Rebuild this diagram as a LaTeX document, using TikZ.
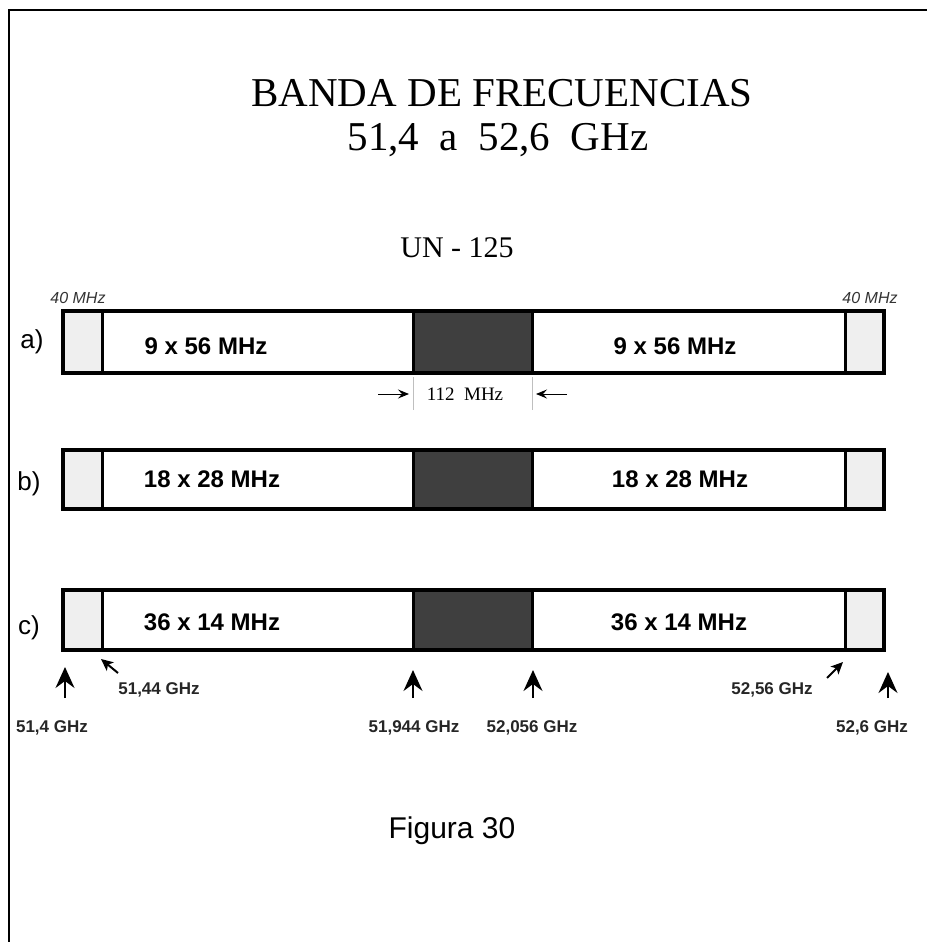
\documentclass[tikz,border=0pt]{standalone}
\usepackage{fontspec}
\setmainfont{Liberation Serif}
\setsansfont{Liberation Sans}
\usetikzlibrary{arrows.meta}
\definecolor{guardgray}{HTML}{EFEFEF}
\definecolor{gapgray}{HTML}{3F3F3F}
\tikzset{
  band/.style={line width=3.5pt},
  guard/.style={fill=guardgray, line width=3pt},
  gap/.style={fill=gapgray, line width=3pt},
  rowlabel/.style={font=\sffamily\fontsize{26}{30}\selectfont, anchor=base},
  bandtext/.style={font=\sffamily\bfseries\fontsize{24}{28}\selectfont, anchor=base},
  guardtext/.style={font=\sffamily\itshape\fontsize{16}{19}\selectfont, anchor=base, text=black!80},
  freqtext/.style={font=\sffamily\bfseries\fontsize{17}{20}\selectfont, anchor=base, text=black!85},
  uparrow/.style={line width=1.6pt, -{Stealth[length=21pt,width=19pt,inset=7pt]}},
  slantarrow/.style={line width=2pt, -{Stealth[length=12pt,width=11pt,inset=3pt]}},
  dimarrow/.style={line width=1pt, -{Stealth[length=11pt,width=9pt,inset=4pt]}}
}
\begin{document}
\begin{tikzpicture}[x=1pt, y=-1pt]
        \useasboundingbox (0,0) rectangle (927,942);
        
        % Frame
        \draw [line width=2.5pt] (9,942) -- (9,10) -- (927,10);%
        
        % Title
        \node (title1) [font=\fontsize{41}{48}\selectfont, anchor=base] at (502,106) {BANDA DE FRECUENCIAS};%
        \node (title2) [font=\fontsize{41}{48}\selectfont, anchor=base] at (498,150) {51,4\ \ a\ \ 52,6\ \ GHz};%
        \node (un) [font=\fontsize{30}{36}\selectfont, anchor=base] at (457,257) {UN - 125};%
        
        % Guard bands 40 MHz
        \node (g40l) [guardtext] at (78,303) {40 MHz};%
        \node (g40r) [guardtext] at (870,303) {40 MHz};%
        
        % Band a
        \draw [guard] (63,311) rectangle (102,373);%
        \draw [guard] (845,311) rectangle (884,373);%
        \draw [gap] (413,311) rectangle (532,373);%
        \draw [band] (63,311) rectangle (884,373);%
        \node (rowa) [rowlabel] at (32,348) {a)};%
        \node (a1) [bandtext] at (206,354) {9 x 56 MHz};%
        \node (a2) [bandtext] at (675,354) {9 x 56 MHz};%
        
        % Central gap 112 MHz
        \draw [black!25, line width=1pt] (413,377) -- (413,410);%
        \draw [black!25, line width=1pt] (532,377) -- (532,410);%
        \coordinate (d1) at (378,394);%
        \coordinate (d2) at (409,394);%
        \coordinate (d3) at (567,394);%
        \coordinate (d4) at (536,394);%
        \draw [dimarrow] (d1) -- (d2);%
        \draw [dimarrow] (d3) -- (d4);%
        \node (gap) [font=\fontsize{19}{22}\selectfont, anchor=base] at (465,400) {112\ \ MHz};%
        
        % Band b
        \draw [guard] (63,450) rectangle (102,509);%
        \draw [guard] (845,450) rectangle (884,509);%
        \draw [gap] (413,450) rectangle (532,509);%
        \draw [band] (63,450) rectangle (884,509);%
        \node (rowb) [rowlabel] at (29,490) {b)};%
        \node (b1) [bandtext] at (212,487) {18 x 28 MHz};%
        \node (b2) [bandtext] at (680,487) {18 x 28 MHz};%
        
        % Band c
        \draw [guard] (63,590) rectangle (102,650);%
        \draw [guard] (845,590) rectangle (884,650);%
        \draw [gap] (413,590) rectangle (532,650);%
        \draw [band] (63,590) rectangle (884,650);%
        \node (rowc) [rowlabel] at (29,634) {c)};%
        \node (c1) [bandtext] at (212,630) {36 x 14 MHz};%
        \node (c2) [bandtext] at (679,630) {36 x 14 MHz};%
        
        % Frequency marks
        \coordinate (f1a) at (65,698);%
        \coordinate (f1b) at (65,667);%
        \coordinate (f2a) at (118,673);%
        \coordinate (f2b) at (101,659);%
        \coordinate (f3a) at (413,698);%
        \coordinate (f3b) at (413,670);%
        \coordinate (f4a) at (533,698);%
        \coordinate (f4b) at (533,670);%
        \coordinate (f5a) at (827,678);%
        \coordinate (f5b) at (843,662);%
        \coordinate (f6a) at (888,698);%
        \coordinate (f6b) at (888,672);%
        \draw [uparrow] (f1a) -- (f1b);%
        \draw [slantarrow] (f2a) -- (f2b);%
        \draw [uparrow] (f3a) -- (f3b);%
        \draw [uparrow] (f4a) -- (f4b);%
        \draw [slantarrow] (f5a) -- (f5b);%
        \draw [uparrow] (f6a) -- (f6b);%
        \node (f1) [freqtext] at (52,732) {51,4 GHz};%
        \node (f2) [freqtext] at (159,694) {51,44 GHz};%
        \node (f3) [freqtext] at (414,732) {51,944 GHz};%
        \node (f4) [freqtext] at (532,732) {52,056 GHz};%
        \node (f5) [freqtext] at (772,694) {52,56 GHz};%
        \node (f6) [freqtext] at (872,732) {52,6 GHz};%
        
        % Caption
        \node (fig) [font=\sffamily\fontsize{30}{36}\selectfont, anchor=base] at (452,838) {Figura 30};%
    \end{tikzpicture}
\end{document}
